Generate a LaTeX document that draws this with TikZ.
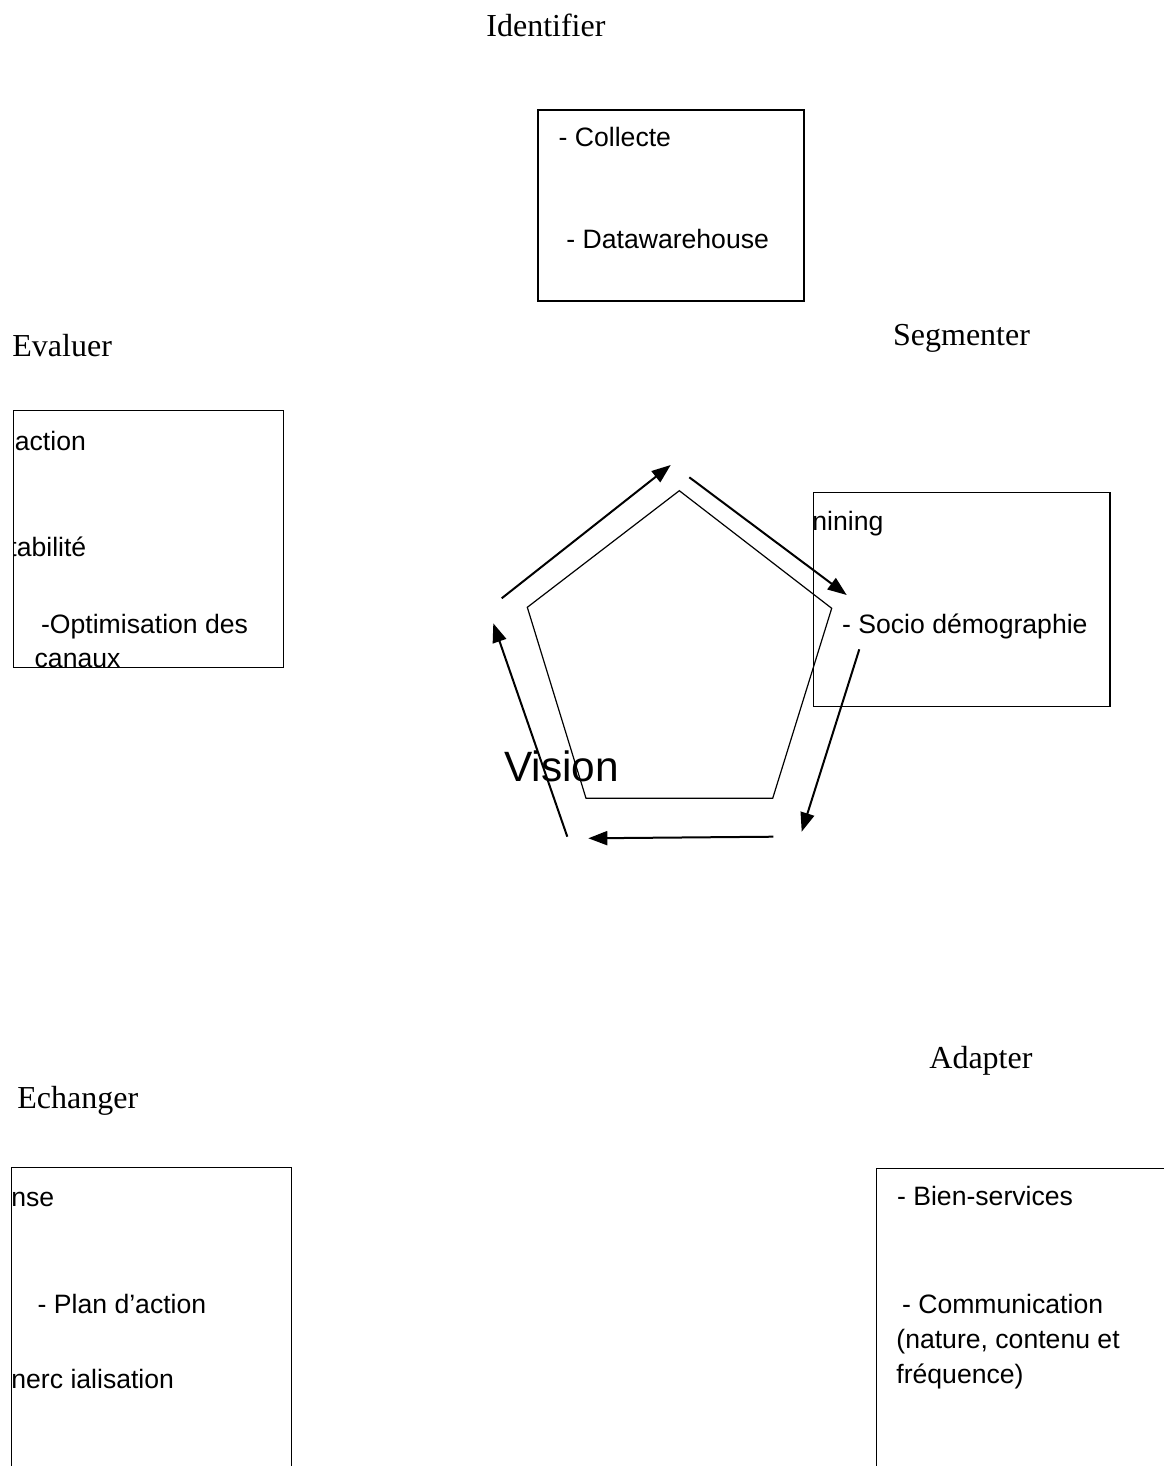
\documentclass[tikz,border=0pt]{standalone}
\usepackage{fontspec}
\setmainfont{Liberation Serif}
\newfontfamily\boxfont{Liberation Sans}
\usetikzlibrary{arrows.meta}
\tikzset{
  title/.style={anchor=base west, inner sep=0pt, font=\fontsize{16}{19}\selectfont},
  item/.style={anchor=base west, inner sep=0pt, font=\boxfont\fontsize{13.3}{16}\selectfont},
  frame/.style={draw=black, line width=0.7pt},
  cyclearrow/.style={line width=1pt, -{Triangle[length=9.5pt,width=7pt]}},
}
\begin{document}
\begin{tikzpicture}[x=0.5pt,y=-0.5pt]
\useasboundingbox (0,0) rectangle (1164,1466);

% stage titles
\node[title] (tIdent) at (486,36.7) {Identifier};
\node[title] (tEval) at (12,356.7) {Evaluer};
\node[title] (tSeg) at (892.7,345) {Segmenter};
\node[title] (tEch) at (17,1108) {Echanger};
\node[title] (tAdapt) at (929,1068) {Adapter};

% Identifier box
\draw[frame] (538,110) rectangle (804,301);
\node[item] (iColl) at (558.3,146.7) {- Collecte};
\node[item] (iData) at (566,248.3) {- Datawarehouse};

% Evaluer box
\draw[frame] (13.3,410.7) rectangle (283.3,667.3);
\begin{scope}
  \clip (13.6,400) rectangle (300,700);
  \node[item] (eSat) at (14.5,450) {action};
  \node[item] (eRent) at (9,556.7) {tabilité};
\end{scope}
\node[item] (eOpt) at (40.7,633) {-Optimisation des};
\node[item] (eCan) at (34.3,667) {canaux};

% Segmenter box
\draw[frame] (813.3,492.3) rectangle (1110,706.7);
\begin{scope}
  \clip (813.6,480) rectangle (1120,720);
  \node[item] (sMin) at (812,530) {nining};
\end{scope}
\node[item] (sSoc) at (841.7,633.3) {- Socio démographie};

% Echanger box (runs past the lower edge)
\draw[frame] (11.7,1466) -- (11.7,1167.3) -- (291.7,1167.3) -- (291.7,1466);
\begin{scope}
  \clip (12,1160) rectangle (300,1466);
  \node[item] (cRep) at (11,1206.7) {nse};
  \node[item] (cCom) at (11,1388.3) {nerc ialisation};
\end{scope}
\node[item] (cPlan) at (37.3,1313.3) {- Plan d’action};

% Adapter box (runs past the right and lower edges)
\draw[frame] (876.7,1466) -- (876.7,1168.3) -- (1164,1168.3);
\node[item] (aBien) at (896.7,1205) {- Bien-services};
\node[item] (aCom) at (901.7,1313) {- Communication};
\node[item] (aNat) at (896,1348) {(nature, contenu et};
\node[item] (aFreq) at (896,1383.3) {fréquence)};

% central pentagon
\coordinate (pT) at (679.3,490.7);
\coordinate (pR) at (831.7,608.3);
\coordinate (pBR) at (772.7,798.3);
\coordinate (pBL) at (586,798.3);
\coordinate (pL) at (527.3,607.3);
\draw[line width=0.6pt] (pT) -- (pR) -- (pBR) -- (pBL) -- (pL) -- cycle;

% cycle arrows around the pentagon
\coordinate (a1s) at (501.7,598.3);  \coordinate (a1e) at (670.7,465);
\coordinate (a2s) at (689.3,477.3);  \coordinate (a2e) at (846.7,595);
\coordinate (a3s) at (859.3,649.3);  \coordinate (a3e) at (801.7,831.7);
\coordinate (a4s) at (773.3,836.7);  \coordinate (a4e) at (588.3,838.3);
\coordinate (a5s) at (567.3,836.7);  \coordinate (a5e) at (493.3,623.3);
\draw[cyclearrow] (a1s) -- (a1e);
\draw[cyclearrow] (a2s) -- (a2e);
\draw[cyclearrow] (a3s) -- (a3e);
\draw[cyclearrow] (a4s) -- (a4e);
\draw[cyclearrow] (a5s) -- (a5e);

% centre label
\node[anchor=base west, inner sep=0pt, font=\boxfont\fontsize{21.2}{25}\selectfont] (vision) at (504,781) {Vision};
\end{tikzpicture}
\end{document}
